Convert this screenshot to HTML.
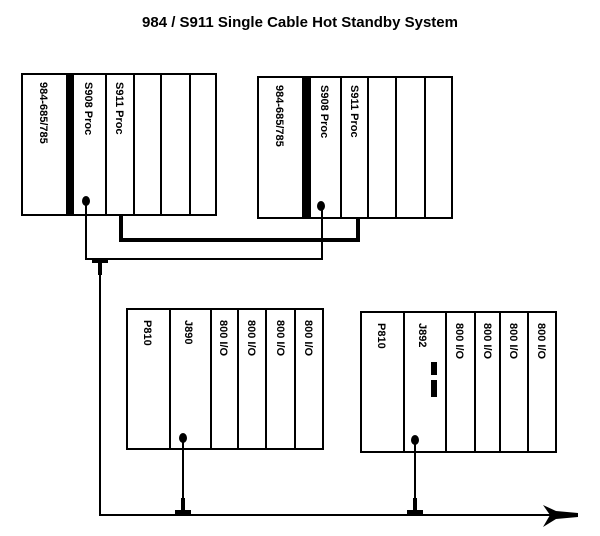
<!DOCTYPE html>
<html><head><meta charset="utf-8"><style>
body{margin:0;background:#fff;width:600px;height:531px;overflow:hidden}
svg text{font-family:"Liberation Sans",sans-serif;font-weight:bold;font-size:11px;fill:#000}
</style></head><body>
<svg width="600" height="531" viewBox="0 0 600 531" xmlns="http://www.w3.org/2000/svg">
<text x="300" y="27" text-anchor="middle" style="font-size:15px">984 / S911 Single Cable Hot Standby System</text>
<g fill="none" stroke="#000" stroke-width="2">
<rect x="22" y="74" width="194" height="141"/>
<line x1="106" y1="74" x2="106" y2="215"/><line x1="134" y1="74" x2="134" y2="215"/><line x1="161" y1="74" x2="161" y2="215"/><line x1="190" y1="74" x2="190" y2="215"/>
<rect x="258" y="77" width="194" height="141"/>
<line x1="341" y1="77" x2="341" y2="218"/><line x1="368" y1="77" x2="368" y2="218"/><line x1="396" y1="77" x2="396" y2="218"/><line x1="425" y1="77" x2="425" y2="218"/>
<rect x="127" y="309" width="196" height="140"/>
<line x1="170" y1="309" x2="170" y2="449"/><line x1="211" y1="309" x2="211" y2="449"/><line x1="238" y1="309" x2="238" y2="449"/><line x1="266" y1="309" x2="266" y2="449"/><line x1="295" y1="309" x2="295" y2="449"/>
<rect x="361" y="312" width="195" height="140"/>
<line x1="404" y1="312" x2="404" y2="452"/><line x1="446" y1="312" x2="446" y2="452"/><line x1="475" y1="312" x2="475" y2="452"/><line x1="500" y1="312" x2="500" y2="452"/><line x1="528" y1="312" x2="528" y2="452"/>
<polyline points="86,199 86,259 322,259 322,205"/>
<line x1="100" y1="259" x2="100" y2="515"/>
<line x1="99" y1="515" x2="560" y2="515"/>
<line x1="183" y1="437" x2="183" y2="515"/>
<line x1="415" y1="440" x2="415" y2="515"/>
</g>
<polyline points="121,215 121,240 358,240 358,218" fill="none" stroke="#000" stroke-width="4"/>
<g fill="#000">
<rect x="66" y="74" width="8" height="141"/><rect x="302" y="77" width="9" height="141"/>
<rect x="92" y="259" width="16" height="4"/><rect x="98" y="259" width="4" height="16"/>
<rect x="175" y="510" width="16" height="4"/><rect x="181" y="498" width="4" height="14"/>
<rect x="407" y="510" width="16" height="4"/><rect x="413" y="498" width="4" height="14"/>
<ellipse cx="86" cy="201" rx="4" ry="5"/><ellipse cx="321" cy="206" rx="4" ry="5"/>
<ellipse cx="183" cy="438" rx="4" ry="5"/><ellipse cx="415" cy="440" rx="4" ry="5"/>
<rect x="431" y="362" width="6" height="13"/><rect x="431" y="380" width="6" height="17"/>
<polygon points="543,505 556,511 578,513 578,517 556,519 543,527 550,515"/>
</g>
<g>
<text transform="translate(40,82) rotate(90)">984-685/785</text>
<text transform="translate(85,82) rotate(90)">S908 Proc</text>
<text transform="translate(116,82) rotate(90)">S911 Proc</text>
<text transform="translate(276,85) rotate(90)">984-685/785</text>
<text transform="translate(321,85) rotate(90)">S908 Proc</text>
<text transform="translate(351,85) rotate(90)">S911 Proc</text>
<text transform="translate(144,320) rotate(90)">P810</text>
<text transform="translate(185,320) rotate(90)">J890</text>
<text transform="translate(220,320) rotate(90)">800 I/O</text>
<text transform="translate(248,320) rotate(90)">800 I/O</text>
<text transform="translate(277,320) rotate(90)">800 I/O</text>
<text transform="translate(305,320) rotate(90)">800 I/O</text>
<text transform="translate(378,323) rotate(90)">P810</text>
<text transform="translate(419,323) rotate(90)">J892</text>
<text transform="translate(456,323) rotate(90)">800 I/O</text>
<text transform="translate(484,323) rotate(90)">800 I/O</text>
<text transform="translate(510,323) rotate(90)">800 I/O</text>
<text transform="translate(538,323) rotate(90)">800 I/O</text>
</g>
</svg>
</body></html>
